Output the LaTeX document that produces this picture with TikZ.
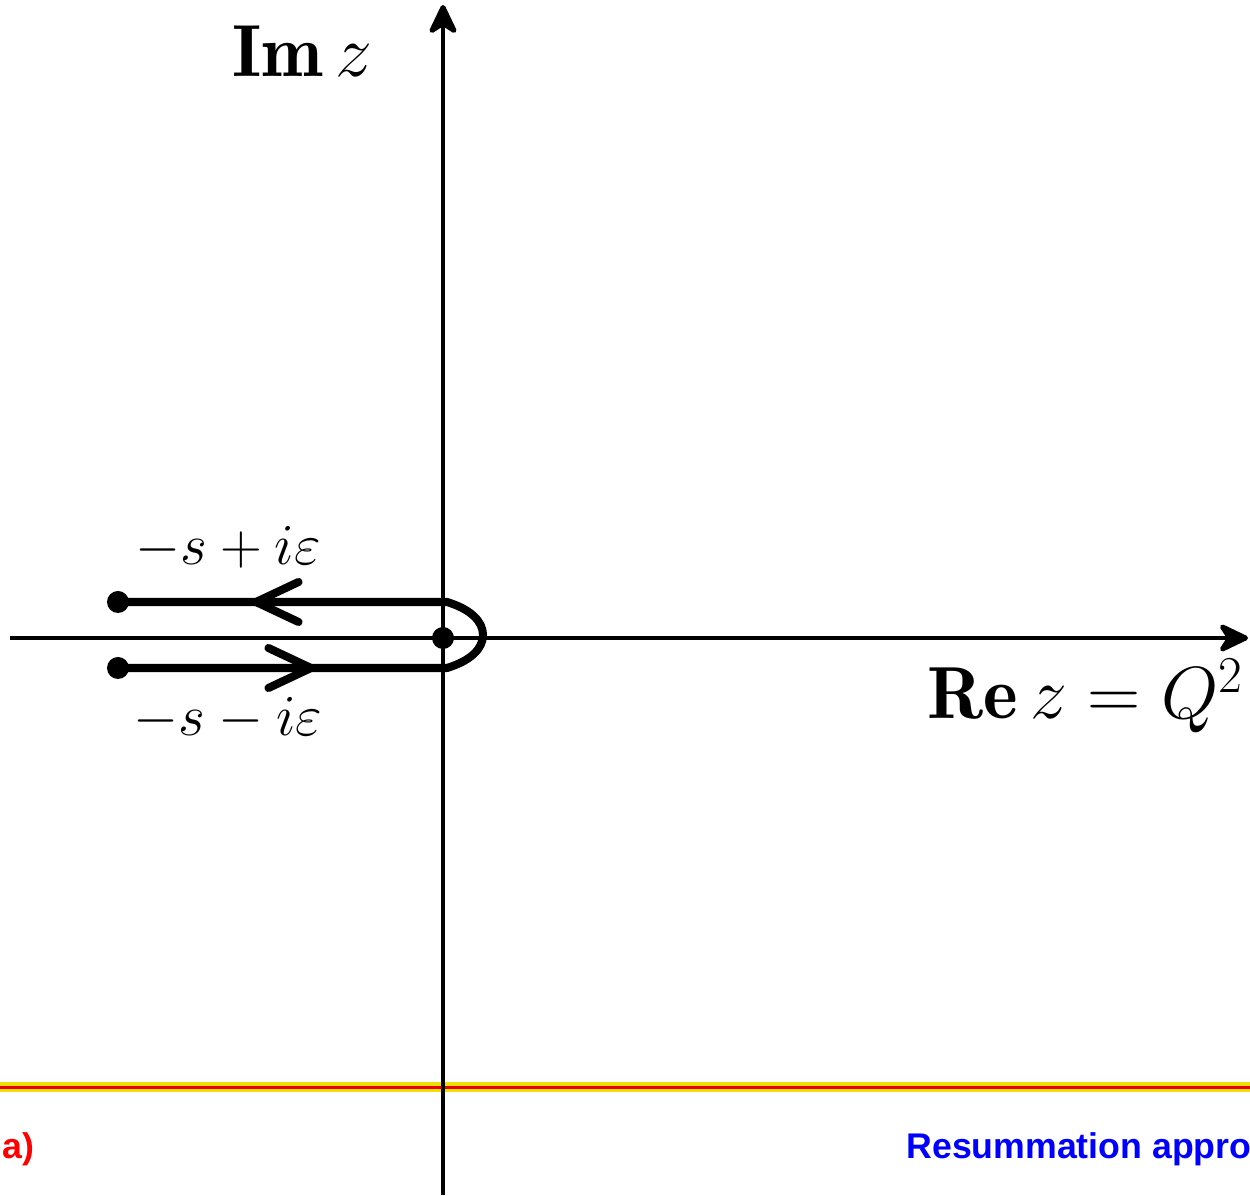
\documentclass[tikz,border=0pt]{standalone}
\usepackage{fix-cm}
\usepackage{amsmath}
\usepackage{fontspec}
\usetikzlibrary{arrows.meta,decorations.markings}
\newfontfamily\helvfont{Liberation Sans}
\definecolor{bandyellow}{RGB}{240,226,0}
\definecolor{bandred}{RGB}{235,0,0}
\tikzset{
  lbl/.style={font=\fontsize{33}{38}\selectfont},
  axlbl/.style={font=\fontsize{42}{50}\selectfont},
  foot/.style={font=\helvfont\bfseries\fontsize{20.3}{24}\selectfont, inner sep=0pt},
  contour/.style={line width=4.6pt, line join=round}
}
\begin{document}
\begin{tikzpicture}[>={Stealth[length=20pt,width=19pt,inset=6pt,round]}, line width=2.8pt]
	\useasboundingbox (0,0) rectangle (25,23.9);
	
	% footer band
	\fill[bandyellow] (0,2.06) rectangle (25,2.26);
	\fill[bandred] (0,2.13) rectangle (25,2.19);
	
	\draw[->] (0.2,11.14) -- (24.96,11.14);
	\draw[->] (8.86,0) -- (8.86,23.8);
	\node[axlbl] (imz) at (6.04,22.88) {$\mathbf{Im}\,z$};
	\node[axlbl] (rez) at (21.7,9.98) {$\mathbf{Re}\,z=Q^2$};
	
	% contour round the cut
	\draw[contour, postaction={decorate}, decoration={markings,
			mark=at position 3.94cm with {\arrow{Straight Barb[length=0.85cm,width=0.8cm,round]}},
			mark=at position -2.68cm with {\arrow{Straight Barb[length=0.85cm,width=0.8cm,round]}}}]
		(2.36,10.54) -- (8.94,10.54)
		.. controls (9.4,10.68) and (9.66,10.92) .. (9.66,11.2)
		.. controls (9.66,11.48) and (9.4,11.72) .. (8.94,11.86)
		-- (2.36,11.86);
	\node[lbl] (upper) at (4.56,12.94) {$-s+i\varepsilon$};
	\node[lbl] (lower) at (4.56,9.52) {$-s-i\varepsilon$};
	\foreach \point in {(2.36,11.86), (2.36,10.54), (8.86,11.14)} {
		\fill \point circle (0.22);
	}
	
	\node[foot, text=red, anchor=west] (part) at (0,0.92) {a)};
	\node[foot, text=blue, anchor=west] (title) at (18.08,0.92) {Resummation appro};
\end{tikzpicture}
\end{document}
